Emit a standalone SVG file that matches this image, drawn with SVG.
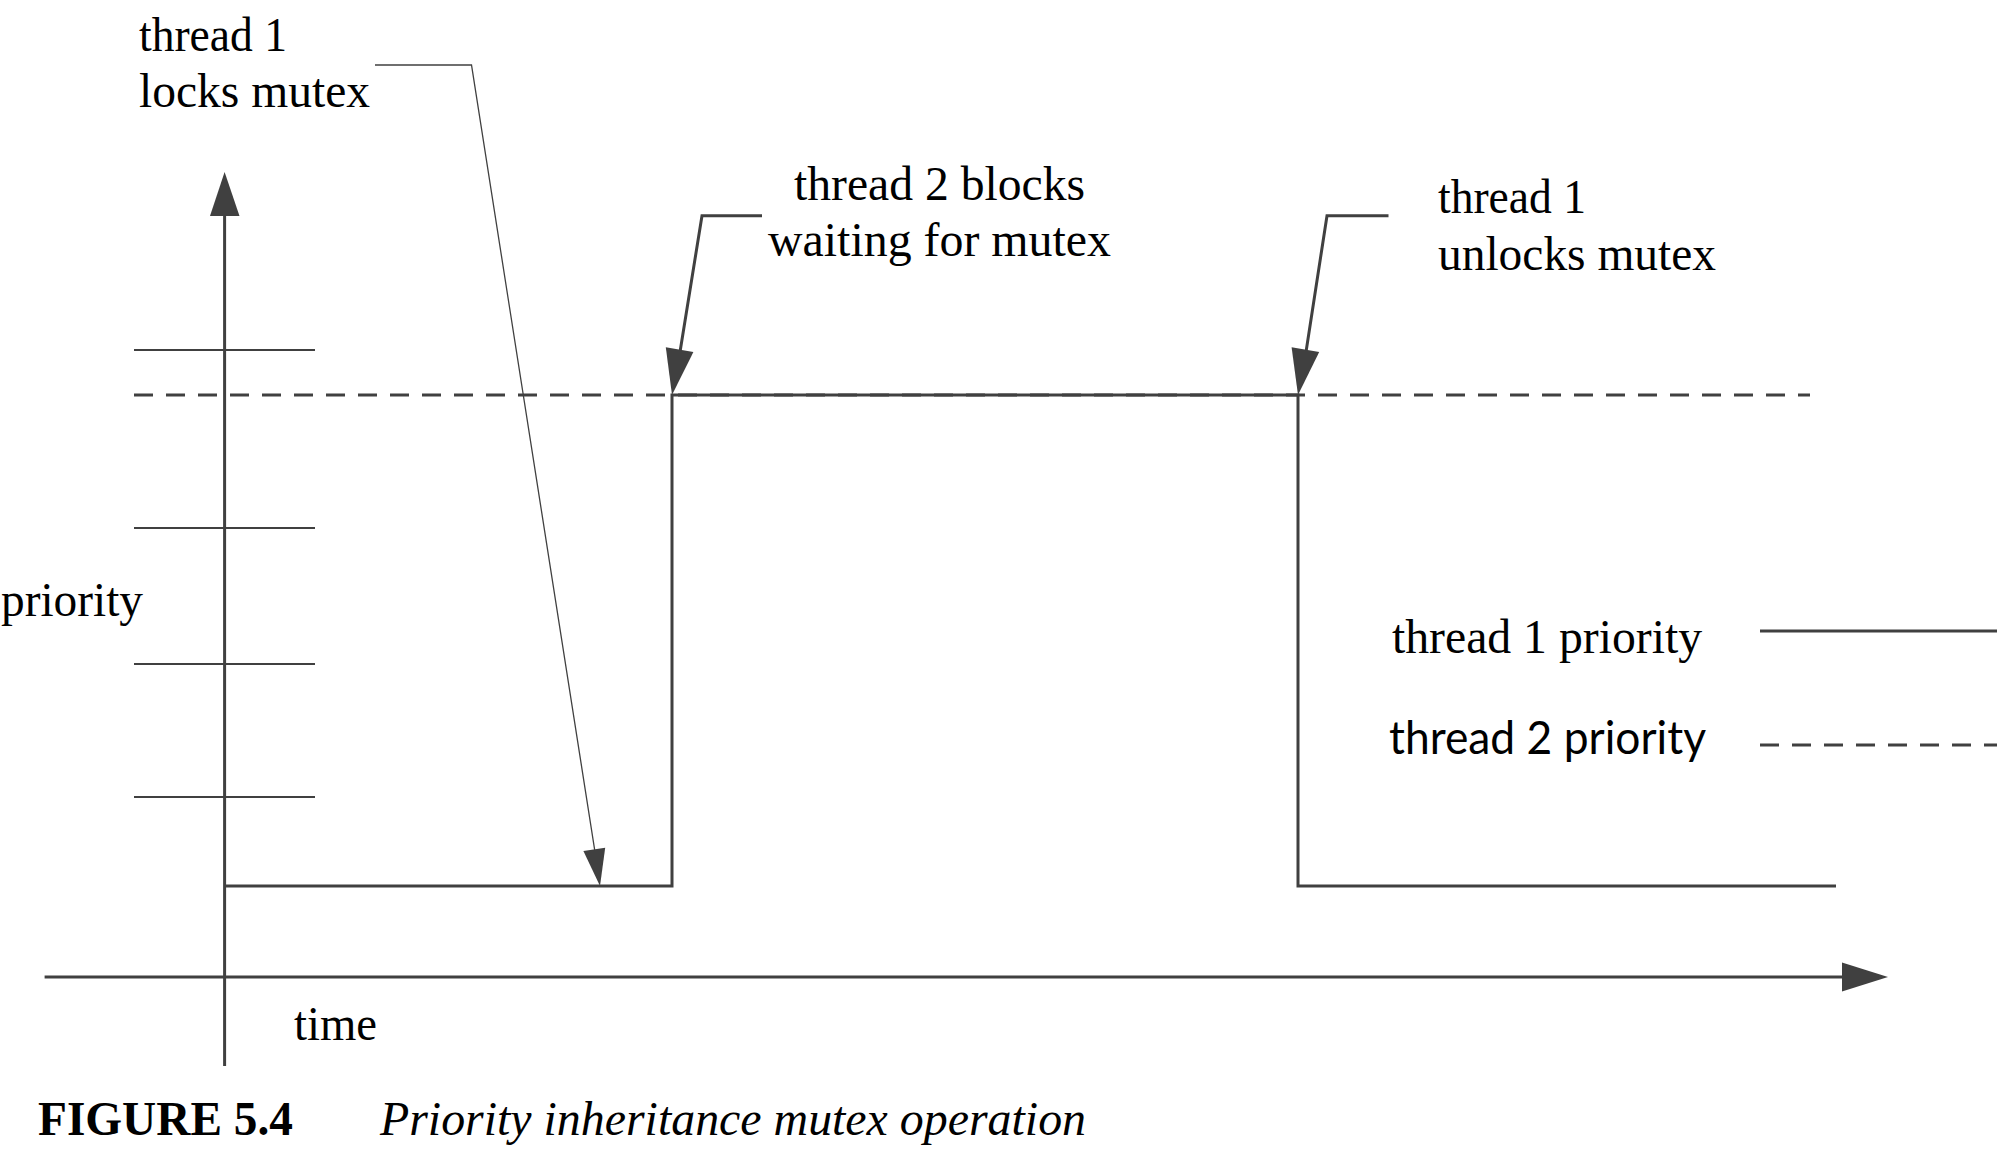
<svg xmlns="http://www.w3.org/2000/svg" width="2001" height="1152" viewBox="0 0 2001 1152">
<style>
.ln{stroke:#404040;stroke-width:3;fill:none;stroke-linecap:butt;stroke-linejoin:miter}
.tk{stroke:#404040;stroke-width:2;fill:none}
.thin{stroke:#404040;stroke-width:1.3;fill:none}
.dash{stroke:#404040;stroke-width:3;fill:none;stroke-dasharray:19 13}
.ah{fill:#404040;stroke:none}
.t{font-family:"Liberation Serif","Times New Roman",serif;font-size:48px;fill:#000}
.s{font-family:Lato,"Liberation Sans",sans-serif;font-size:47px;fill:#000}
.fb{font-family:"Liberation Serif","Times New Roman",serif;font-size:48px;font-weight:bold;fill:#000}
.fi{font-family:"Liberation Serif","Times New Roman",serif;font-size:48px;font-style:italic;fill:#000}
</style>
<rect width="2001" height="1152" fill="#fff"/>
<g id="axes">
<line class="ln" x1="224.6" y1="1066" x2="224.6" y2="214"/>
<polygon class="ah" points="224.6,172 210,216 239.5,216"/>
<line class="ln" x1="44.6" y1="977" x2="1844" y2="977"/>
<polygon class="ah" points="1888,977 1842,962.5 1842,991.5"/>
</g>
<g id="ticks">
<line class="tk" x1="134" y1="350" x2="315" y2="350"/>
<line class="tk" x1="134" y1="528" x2="315" y2="528"/>
<line class="tk" x1="134" y1="664" x2="315" y2="664"/>
<line class="tk" x1="134" y1="797" x2="315" y2="797"/>
</g>
<g id="thread2-priority">
<line class="dash" x1="134" y1="395" x2="1810" y2="395"/>
</g>
<g id="thread1-priority">
<polyline class="ln" points="224.6,886 672,886 672,395 1298,395 1298,886 1836,886"/>
</g>
<g id="connectors">
<polyline class="thin" points="375,65 471.5,65 595,852"/>
<polygon class="ah" points="600,886 605.2,847.7 583.4,851.1"/>
<polyline class="ln" points="762,215.7 702,215.7 680,352"/>
<polygon class="ah" points="672,395 693.4,351.9 665.8,347.3"/>
<polyline class="ln" points="1388.5,215.7 1327,215.7 1306,352"/>
<polygon class="ah" points="1298,395 1319.2,351.9 1291.6,347.3"/>
</g>
<g id="label-locks">
<text class="t" x="139" y="51" textLength="148" lengthAdjust="spacingAndGlyphs">thread 1</text>
<text class="t" x="139" y="107" textLength="231" lengthAdjust="spacingAndGlyphs">locks mutex</text>
</g>
<g id="label-blocks">
<text class="t" x="794" y="200" textLength="291" lengthAdjust="spacingAndGlyphs">thread 2 blocks</text>
<text class="t" x="768" y="256" textLength="343" lengthAdjust="spacingAndGlyphs">waiting for mutex</text>
</g>
<g id="label-unlocks">
<text class="t" x="1438" y="213" textLength="148" lengthAdjust="spacingAndGlyphs">thread 1</text>
<text class="t" x="1438" y="270" textLength="278" lengthAdjust="spacingAndGlyphs">unlocks mutex</text>
</g>
<g id="label-priority">
<text class="t" x="1" y="616" textLength="142" lengthAdjust="spacingAndGlyphs">priority</text>
</g>
<g id="label-time">
<text class="t" x="294" y="1040" textLength="83" lengthAdjust="spacingAndGlyphs">time</text>
</g>
<g id="legend">
<text class="t" x="1392" y="653" textLength="310" lengthAdjust="spacingAndGlyphs">thread 1 priority</text>
<line class="ln" x1="1760" y1="631" x2="1997" y2="631"/>
<text class="s" x="1389" y="754" textLength="317" lengthAdjust="spacingAndGlyphs">thread 2 priority</text>
<line class="dash" x1="1760" y1="745" x2="1997" y2="745"/>
</g>
<g id="caption">
<text class="fb" x="38" y="1135" textLength="255" lengthAdjust="spacingAndGlyphs">FIGURE 5.4</text>
<text class="fi" x="380" y="1135" textLength="706" lengthAdjust="spacingAndGlyphs">Priority inheritance mutex operation</text>
</g>
</svg>
